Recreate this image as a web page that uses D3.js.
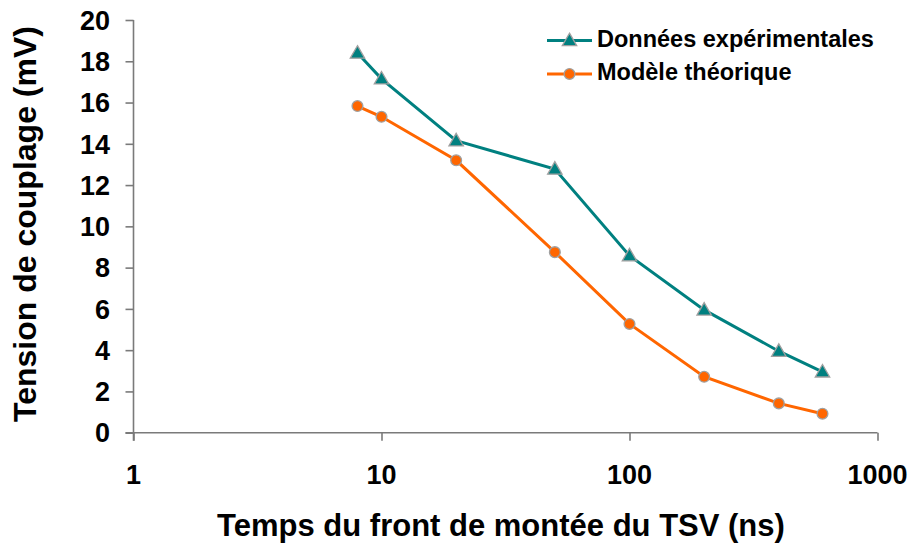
<!DOCTYPE html>
<html>
<head>
<meta charset="utf-8">
<script src="https://cdn.jsdelivr.net/npm/d3@7"></script>
<style>
  html, body { margin: 0; padding: 0; background: #fff; }
  svg { display: block; }
  text { font-family: "Liberation Sans", Arial, sans-serif; font-weight: bold; fill: #000; }
</style>
</head>
<body>
<svg id="chart" width="912" height="545"></svg>
<script>
// Rise time of the TSV front (ns)
const riseTimes = [8, 10, 20, 50, 100, 200, 400, 600];
// Coupling voltage (mV)
const experimental = [18.4, 17.15, 14.15, 12.78, 8.58, 5.95, 3.95, 2.95];
const theoretical  = [15.83, 15.31, 13.2, 8.75, 5.27, 2.71, 1.42, 0.92];

const seriesNames = ["Données expérimentales", "Modèle théorique"];
const seriesColors = ["#008080", "#FF6600"];

const xTicks = [1, 10, 100, 1000];
const yTicks = [0, 2, 4, 6, 8, 10, 12, 14, 16, 18, 20];

const xTitle = "Temps du front de montée du TSV (ns)";
const yTitle = "Tension de couplage (mV)";

const svg = d3.select("#chart");

const x = d3.scaleLog().domain([1, 1000]).range([133.5, 877.5]);
const y = d3.scaleLinear().domain([0, 20]).range([432.7, 20]);

const axisColor = "#7a7a7a";

// Y axis
const yAxis = svg.append("g")
  .attr("transform", `translate(${x(1)},0)`)
  .call(d3.axisLeft(y).tickValues(yTicks).tickSize(8).tickSizeOuter(0).tickFormat(""));
yAxis.select(".domain").attr("stroke", axisColor).attr("stroke-width", 1.6)
  .attr("d", `M0,${y(0) + 8}V${y(20)}`);
yAxis.selectAll(".tick line").attr("stroke", axisColor).attr("stroke-width", 1.6);

// X axis
const xAxis = svg.append("g")
  .attr("transform", `translate(0,${y(0)})`)
  .call(d3.axisBottom(x).tickValues(xTicks).tickSize(8).tickSizeOuter(0).tickFormat(""));
xAxis.select(".domain").attr("stroke", axisColor).attr("stroke-width", 1.6)
  .attr("d", `M${x(1) - 8},0H${x(1000)}`);
xAxis.selectAll(".tick line").attr("stroke", axisColor).attr("stroke-width", 1.6);

// Tick labels
svg.append("g").selectAll("text")
  .data(yTicks)
  .join("text")
  .attr("x", 110)
  .attr("y", d => y(d))
  .attr("dy", "0.36em")
  .attr("text-anchor", "end")
  .style("font-size", "27px")
  .text(d => d);

svg.append("g").selectAll("text")
  .data(xTicks)
  .join("text")
  .attr("x", d => x(d))
  .attr("y", 484)
  .attr("text-anchor", "middle")
  .style("font-size", "27px")
  .text(d => d);

// Axis titles
svg.append("text")
  .attr("x", 501)
  .attr("y", 536)
  .attr("text-anchor", "middle")
  .style("font-size", "31px")
  .text(xTitle);

svg.append("text")
  .attr("transform", `translate(36,224) rotate(-90)`)
  .attr("text-anchor", "middle")
  .style("font-size", "32px")
  .text(yTitle);

// Series
const series = [experimental, theoretical];
const line = d3.line().x(d => x(d[0])).y(d => y(d[1]));
const triangle = d3.symbol().type(d3.symbolTriangle).size(90);

function drawMarker(g, i, cx, cy) {
  if (i === 0) {
    g.append("path")
      .attr("d", triangle())
      .attr("transform", `translate(${cx},${cy + 1})`)
      .attr("fill", seriesColors[i])
      .attr("stroke", "#a0a0a0")
      .attr("stroke-width", 1.3);
  } else {
    g.append("circle")
      .attr("cx", cx).attr("cy", cy).attr("r", 5.4)
      .attr("fill", seriesColors[i])
      .attr("stroke", "#a0a0a0")
      .attr("stroke-width", 1.3);
  }
}

series.forEach((vals, i) => {
  const pts = riseTimes.map((t, k) => [t, vals[k]]);
  const g = svg.append("g");
  g.append("path")
    .attr("d", line(pts))
    .attr("fill", "none")
    .attr("stroke", seriesColors[i])
    .attr("stroke-width", 3);
  pts.forEach(p => drawMarker(g, i, x(p[0]), y(p[1])));
});

// Legend
const legendRows = [40.5, 74];
seriesNames.forEach((name, i) => {
  const g = svg.append("g");
  g.append("line")
    .attr("x1", 547).attr("x2", 592)
    .attr("y1", legendRows[i]).attr("y2", legendRows[i])
    .attr("stroke", seriesColors[i]).attr("stroke-width", 3);
  drawMarker(g, i, 569.5, legendRows[i]);
  g.append("text")
    .attr("x", 597)
    .attr("y", legendRows[i] + 6)
    .style("font-size", "23.5px")
    .text(name);
});
</script>
</body>
</html>
